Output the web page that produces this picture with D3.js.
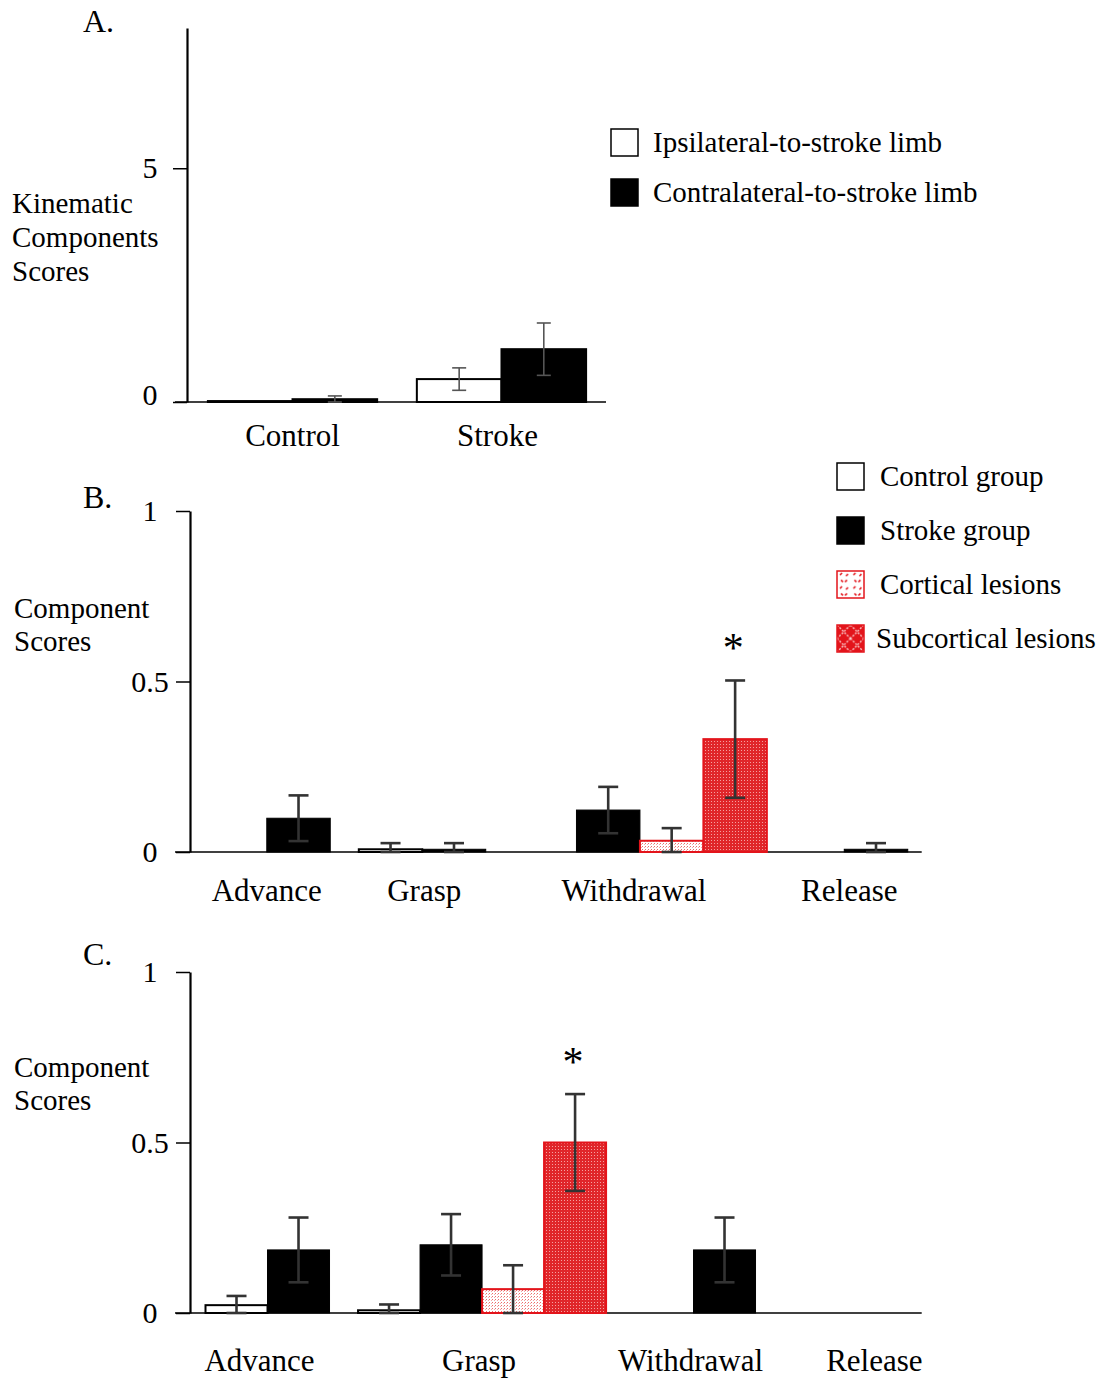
<!DOCTYPE html>
<html>
<head>
<meta charset="utf-8">
<script src="https://cdn.jsdelivr.net/npm/d3@7"></script>
<style>
  body { margin: 0; background: #fff; }
  svg text { font-family: 'Liberation Serif', 'Times New Roman', serif; fill: #000; }
</style>
</head>
<body>
<div id="root"></div>
<script>
// ---- data ----
var catsA = ['Control', 'Stroke'];
var seriesA = ['Ipsilateral-to-stroke limb', 'Contralateral-to-stroke limb'];
var aIpsi = [0.02, 0.49];
var aIpsiErr = [0, 0.24];
var aContra = [0.06, 1.13];
var aContraErr = [0.07, 0.56];

var catsBC = ['Advance', 'Grasp', 'Withdrawal', 'Release'];
var seriesBC = ['Control group', 'Stroke group', 'Cortical lesions', 'Subcortical lesions'];

var bControl = [0, 0.008, 0, 0];
var bStroke = [0.099, 0.008, 0.123, 0.008];
var bCortical = [null, null, 0.033, null];
var bSubcortical = [null, null, 0.331, null];
var bControlErr = [0, 0.018, 0, 0];
var bStrokeErr = [0.067, 0.018, 0.068, 0.018];
var bCorticalErr = [null, null, 0.037, null];
var bSubcorticalErr = [null, null, 0.172, null];
var bStars = [null, null, 3, null]; // index of series marked *

var cControl = [0.023, 0.008, 0, 0];
var cStroke = [0.185, 0.2, 0.185, 0];
var cCortical = [null, 0.07, null, null];
var cSubcortical = [null, 0.5, null, null];
var cControlErr = [0.027, 0.017, 0, 0];
var cStrokeErr = [0.095, 0.09, 0.095, 0];
var cCorticalErr = [null, 0.07, null, null];
var cSubcorticalErr = [null, 0.142, null, null];
var cStars = [null, 3, null, null];

// ---- drawing ----
var w = 1102, h = 1384;
var svg = d3.select('#root').append('svg').attr('width', w).attr('height', h);
var RED = '#e3141b';

var defs = svg.append('defs');
var pSub = defs.append('pattern').attr('id', 'sub').attr('patternUnits', 'userSpaceOnUse')
    .attr('width', 3).attr('height', 3);
pSub.append('rect').attr('width', 3).attr('height', 3).attr('fill', '#e0262a');
pSub.append('rect').attr('x', 0).attr('y', 0).attr('width', 1).attr('height', 1).attr('fill', '#f5a0a0');
var pCort = defs.append('pattern').attr('id', 'cort').attr('patternUnits', 'userSpaceOnUse')
    .attr('width', 3).attr('height', 3);
pCort.append('rect').attr('width', 3).attr('height', 3).attr('fill', '#ffffff');
pCort.append('rect').attr('x', 0).attr('y', 0).attr('width', 1).attr('height', 1).attr('fill', '#ec6a6a');
pCort.append('rect').attr('x', 2).attr('y', 1).attr('width', 1).attr('height', 1).attr('fill', '#f4a8a8');
// legend swatch patterns
var lSub = defs.append('pattern').attr('id', 'lsub').attr('patternUnits', 'userSpaceOnUse')
    .attr('x', 837).attr('y', 625).attr('width', 13.5).attr('height', 13.5);
lSub.append('rect').attr('width', 13.5).attr('height', 13.5).attr('fill', RED);
lSub.append('path').attr('d', 'M0,0L13.5,13.5M13.5,0L0,13.5').attr('stroke', '#fbd0d0')
    .attr('stroke-width', 1.3).attr('stroke-dasharray', '2,1.5');
var lCort = defs.append('pattern').attr('id', 'lcort').attr('patternUnits', 'userSpaceOnUse')
    .attr('x', 837).attr('y', 571).attr('width', 13.5).attr('height', 13.5);
lCort.append('rect').attr('width', 13.5).attr('height', 13.5).attr('fill', '#fff');
lCort.append('path').attr('d', 'M3,4l2,-2M4,9l2,2M9,5l2,-2M10,9l-2,2').attr('stroke', RED)
    .attr('stroke-width', 1.5);

function fillFor(s) { return ['#fff', '#000', 'url(#cort)', 'url(#sub)'][s]; }
function strokeFor(s) { return ['#000', '#000', RED, RED][s]; }

function yAxis(scale, x, ticks, nudge) {
    var g = svg.append('g').attr('transform', 'translate(' + x + ',0)')
        .call(d3.axisLeft(scale).tickValues(ticks).tickSize(14).tickSizeOuter(0)
            .tickFormat(function (d) { return String(d); }));
    g.attr('font-family', null).attr('font-size', null);
    g.select('.domain').attr('stroke-width', 2.2);
    g.selectAll('.tick line').attr('stroke-width', 1.5);
    g.selectAll('.tick text').attr('x', 150 - x).attr('text-anchor', 'middle')
        .attr('y', function (d) { return nudge ? (nudge[d] || 0) : 0; })
        .attr('dy', '0.32em').style('font-size', '30px').attr('fill', '#000');
    return g;
}

function errBar(cx, y, v, e, cap, color, sw) {
    if (!e) return;
    var top = y(v + e), bot = y(Math.max(0, v - e));
    var g = svg.append('g').attr('stroke', color).attr('stroke-width', sw);
    g.append('line').attr('x1', cx).attr('x2', cx).attr('y1', top).attr('y2', bot);
    g.append('line').attr('x1', cx - cap / 2).attr('x2', cx + cap / 2).attr('y1', top).attr('y2', top);
    g.append('line').attr('x1', cx - cap / 2).attr('x2', cx + cap / 2).attr('y1', bot).attr('y2', bot);
}

function textLines(x, y0, lines, lh, size) {
    lines.forEach(function (t, i) {
        svg.append('text').attr('x', x).attr('y', y0 + i * lh).style('font-size', size + 'px').text(t);
    });
}

// ---------- Panel A ----------
(function () {
    var y = d3.scaleLinear().domain([0, 8]).range([402, 28]);
    var x = d3.scaleBand().domain(catsA).range([187, 607]).paddingInner(0.19).paddingOuter(0.1);
    var xs = d3.scaleBand().domain(seriesA).range([0, x.bandwidth()]);
    var vals = [aIpsi, aContra], errs = [aIpsiErr, aContraErr];
    var labelShift = [0, -4];

    svg.append('line').attr('x1', 175).attr('x2', 606).attr('y1', y(0)).attr('y2', y(0))
        .attr('stroke', '#000').attr('stroke-width', 1.5);
    seriesA.forEach(function (s, si) {
        catsA.forEach(function (c, ci) {
            var v = vals[si][ci];
            svg.append('rect').attr('x', x(c) + xs(s)).attr('width', xs.bandwidth())
                .attr('y', y(v)).attr('height', y(0) - y(v))
                .attr('fill', fillFor(si)).attr('stroke', '#000').attr('stroke-width', 2);
        });
    });
    seriesA.forEach(function (s, si) {
        catsA.forEach(function (c, ci) {
            errBar(x(c) + xs(s) + xs.bandwidth() / 2, y, vals[si][ci], errs[si][ci], 14, '#555', 1.6);
        });
    });
    yAxis(y, 187, [0, 5], { 0: -7 });
    catsA.forEach(function (c, i) {
        svg.append('text').attr('x', x(c) + x.bandwidth() / 2 + labelShift[i]).attr('y', 446)
            .attr('text-anchor', 'middle').style('font-size', '31px').text(c);
    });
    svg.append('text').attr('x', 83).attr('y', 32).style('font-size', '32px').text('A.');
    textLines(12, 213, ['Kinematic', 'Components', 'Scores'], 34, 29);

    seriesA.forEach(function (s, si) {
        var ty = 129 + si * 50;
        svg.append('rect').attr('x', 611).attr('y', ty).attr('width', 27).attr('height', 27)
            .attr('fill', fillFor(si)).attr('stroke', '#000').attr('stroke-width', 1.5);
        svg.append('text').attr('x', 653).attr('y', ty + 13.5).attr('dy', '0.33em')
            .style('font-size', '29px').text(s);
    });
})();

// ---------- Panels B and C ----------
function grouped(opt) {
    var y = d3.scaleLinear().domain([0, 1]).range([opt.y0, opt.y1]);
    // lay bars out in bar-width units, one group per category
    var bars = [], groups = [], pos = opt.lead;
    catsBC.forEach(function (c, ci) {
        if (ci > 0) pos += opt.gaps[ci - 1];
        var start = pos;
        opt.vals.forEach(function (arr, si) {
            if (arr[ci] === null) return;
            bars.push({ cat: ci, s: si, u: pos, v: arr[ci], e: opt.errs[si][ci] });
            pos += 1;
        });
        groups.push({ c: c, mid: (start + pos) / 2 });
    });
    pos += opt.trail;
    var x = d3.scaleLinear().domain([0, pos]).range([opt.ax, opt.xEnd]);
    var bw = x(1) - x(0);

    svg.append('line').attr('x1', 175).attr('x2', opt.xEnd).attr('y1', y(0)).attr('y2', y(0))
        .attr('stroke', '#000').attr('stroke-width', 1.5);
    bars.forEach(function (b) {
        svg.append('rect').attr('x', x(b.u)).attr('width', bw)
            .attr('y', y(b.v)).attr('height', y(0) - y(b.v))
            .attr('fill', fillFor(b.s)).attr('stroke', strokeFor(b.s))
            .attr('stroke-width', b.s === 1 ? 1 : 2);
    });
    bars.forEach(function (b) {
        errBar(x(b.u + 0.5), y, b.v, b.e, 20, '#333', 2.6);
        if (opt.stars[b.cat] === b.s) {
            svg.append('text').attr('x', x(b.u + 0.5) - 2).attr('y', y(b.v + b.e) - 18)
                .attr('text-anchor', 'middle').style('font-size', '42px').text('*');
        }
    });
    yAxis(y, opt.ax, [0, 0.5, 1]);
    groups.forEach(function (g, i) {
        svg.append('text').attr('x', x(g.mid) + opt.labelShift[i]).attr('y', opt.labelY)
            .attr('text-anchor', 'middle').style('font-size', '31px').text(g.c);
    });
    svg.append('text').attr('x', 83).attr('y', opt.titleY).style('font-size', '32px').text(opt.title);
    textLines(14, opt.yLabY, ['Component', 'Scores'], 33, 29);
}

grouped({
    title: 'B.', titleY: 508, yLabY: 618, labelY: 901,
    y0: 852, y1: 511, ax: 190, xEnd: 921.7,
    lead: 0.21, gaps: [0.45, 0.43, 0.22], trail: 0.22,
    labelShift: [0, 2, -6, 5],
    vals: [bControl, bStroke, bCortical, bSubcortical],
    errs: [bControlErr, bStrokeErr, bCorticalErr, bSubcorticalErr],
    stars: bStars
});

grouped({
    title: 'C.', titleY: 965, yLabY: 1077, labelY: 1371,
    y0: 1313, y1: 972, ax: 190, xEnd: 921.7,
    lead: 0.25, gaps: [0.46, 0.41, 0.4], trail: 0.28,
    labelShift: [-8, -3, -3, 32],
    vals: [cControl, cStroke, cCortical, cSubcortical],
    errs: [cControlErr, cStrokeErr, cCorticalErr, cSubcorticalErr],
    stars: cStars
});

// legend for B/C
var legFill = ['#fff', '#000', 'url(#lcort)', 'url(#lsub)'];
seriesBC.forEach(function (s, si) {
    var ty = [463, 517, 571, 625][si];
    svg.append('rect').attr('x', 837).attr('y', ty).attr('width', 27).attr('height', 27)
        .attr('fill', legFill[si]).attr('stroke', strokeFor(si)).attr('stroke-width', 1.5);
    svg.append('text').attr('x', si === 3 ? 876 : 880).attr('y', ty + 13.5).attr('dy', '0.33em')
        .style('font-size', '29px').text(s);
});
</script>
</body>
</html>
